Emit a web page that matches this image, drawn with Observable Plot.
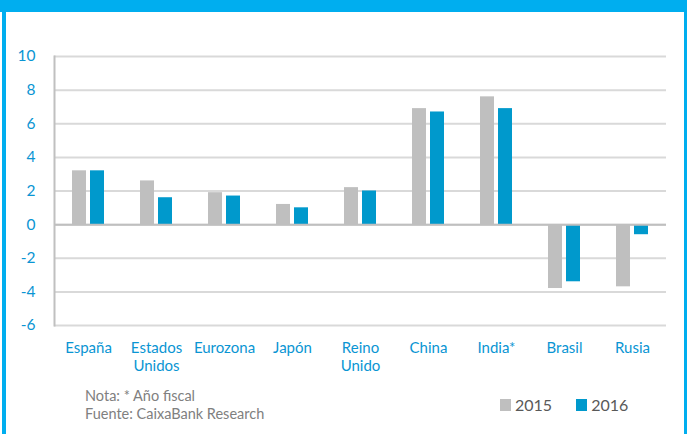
<!DOCTYPE html>
<html>
<head>
<meta charset="utf-8">
<script src="https://cdn.jsdelivr.net/npm/d3@7"></script>
<script src="https://cdn.jsdelivr.net/npm/@observablehq/plot@0.6"></script>
<style>
  html, body { margin: 0; padding: 0; background: #fff; }
  #wrap { position: relative; width: 687px; height: 434px; overflow: hidden; background: #fff; font-family: Lato, "Open Sans", sans-serif; }
  #topbar { position: absolute; left: 0; top: 0; width: 687px; height: 12px; background: #00aeef; }
  #lborder { position: absolute; left: 2px; top: 0; width: 4px; height: 434px; background: #00aeef; }
  #rborder { position: absolute; left: 684px; top: 0; width: 3px; height: 434px; background: #00aeef; }
  #chart { position: absolute; left: 0; top: 0; }
  #note { position: absolute; left: 85px; top: 387px; font-size: 14.5px; line-height: 18px; color: #808080; }
  #legend { position: absolute; left: 500px; top: 395px; font-size: 16px; color: #595959; display: flex; align-items: center; }
  .sw { display: inline-block; width: 11px; height: 12px; margin-right: 4px; }
  .item { display: flex; align-items: center; margin-right: 24px; }
</style>
</head>
<body>
<div id="wrap">
  <div id="chart"></div>
  <div id="topbar"></div>
  <div id="lborder"></div>
  <div id="rborder"></div>
  <div id="note"></div>
  <div id="legend"></div>
</div>
<script>
const categories = ["España", "Estados Unidos", "Eurozona", "Japón", "Reino Unido", "China", "India*", "Brasil", "Rusia"];
const years = ["2015", "2016"];
const values2015 = [3.2, 2.6, 1.9, 1.2, 2.2, 6.9, 7.6, -3.8, -3.7];
const values2016 = [3.2, 1.6, 1.7, 1.0, 2.0, 6.7, 6.9, -3.4, -0.6];
const yTicks = [-6, -4, -2, 0, 2, 4, 6, 8, 10];
const colors = ["#bfbfbf", "#0099cc"];
const noteLines = ["Nota: * Año fiscal", "Fuente: CaixaBank Research"];

const data = [];
categories.forEach((c, i) => {
  data.push({cat: c, year: years[0], value: values2015[i]});
  data.push({cat: c, year: years[1], value: values2016[i]});
});

const chart = Plot.plot({
  width: 687,
  height: 380,
  marginLeft: 52,
  marginRight: 20,
  marginTop: 56,
  marginBottom: 55,
  style: {fontFamily: "Lato, 'Open Sans', sans-serif", fontSize: "15px", background: "transparent"},
  fx: {domain: categories, padding: 0, label: null},
  x: {domain: years, paddingInner: 0.21, paddingOuter: 0.895, axis: null},
  y: {domain: [-6, 10], ticks: yTicks, label: null},
  color: {domain: years, range: colors},
  marks: [
    Plot.gridY(yTicks, {stroke: "#d9d9d9", strokeWidth: 2, strokeOpacity: 1}),
    Plot.barY(data, {fx: "cat", x: "year", y: "value", fill: "year"}),
    Plot.ruleY([0], {stroke: "#bfbfbf", strokeWidth: 2}),
    Plot.frame({anchor: "left", facet: "super", stroke: "#c0c0c0", strokeWidth: 2}),
    Plot.axisY(yTicks, {tickSize: 0, tickPadding: 19, fill: "#0a95d3", fontSize: 15.5, label: null,
      tickFormat: d => String(d)}),
    Plot.axisFx({anchor: "bottom", tickSize: 0, tickPadding: 15, fill: "#0a95d3", lineHeight: 1.2, label: null,
      tickFormat: d => d.replace(" ", "\n")})
  ]
});
document.getElementById("chart").appendChild(chart);

document.getElementById("note").innerHTML = noteLines.map(l => `<div>${l}</div>`).join("");
document.getElementById("legend").innerHTML = years.map((y, i) =>
  `<div class="item"><span class="sw" style="background:${colors[i]}"></span>${y}</div>`).join("");
</script>
</body>
</html>
